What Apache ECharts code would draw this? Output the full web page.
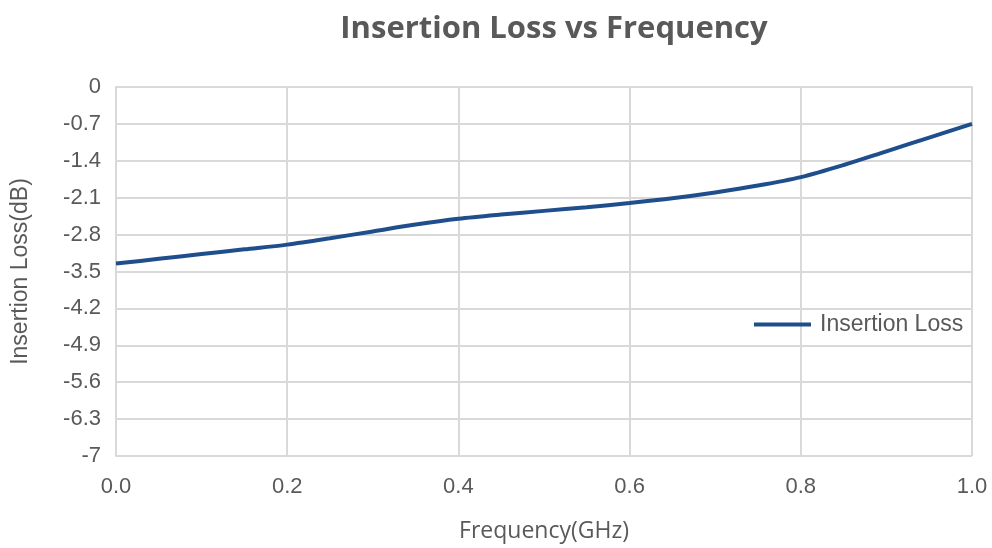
<!DOCTYPE html>
<html>
<head>
<meta charset="utf-8">
<script src="https://cdn.jsdelivr.net/npm/echarts@6/dist/echarts.min.js"></script>
<style>
  html, body { margin: 0; padding: 0; background: #fff; }
  #chart { width: 992px; height: 548px; }
</style>
</head>
<body>
<div id="chart"></div>
<script>
// 频率 (GHz) 和插损 (dB)
var freq = [0.00, 0.05, 0.10, 0.15, 0.20, 0.25, 0.30, 0.35, 0.40, 0.45, 0.50,
            0.55, 0.60, 0.65, 0.70, 0.75, 0.80, 0.85, 0.90, 0.95, 1.00];
var loss = [-3.35, -3.26, -3.17, -3.08, -2.99, -2.87, -2.74, -2.61, -2.50, -2.42, -2.35,
            -2.28, -2.20, -2.11, -2.00, -1.87, -1.71, -1.48, -1.22, -0.96, -0.70];
var xTicks = [0.0, 0.2, 0.4, 0.6, 0.8, 1.0];
var yTicks = [0, -0.7, -1.4, -2.1, -2.8, -3.5, -4.2, -4.9, -5.6, -6.3, -7];

var chart = echarts.init(document.getElementById('chart'));
var grey = '#595959';
var gridColor = '#d9d9d9';

var option = {
  animation: false,
  title: {
    text: 'Insertion Loss vs Frequency',
    left: 549,
    top: 9,
    textAlign: 'center',
    textStyle: { color: grey, fontSize: 31, fontWeight: 'bold', fontFamily: 'Open Sans' }
  },
  legend: {
    data: ['Insertion Loss'],
    left: 749,
    top: 308,
    itemWidth: 57,
    itemHeight: 4,
    itemGap: 6,
    icon: 'rect',
    textStyle: { color: grey, fontSize: 23, fontFamily: 'Liberation Sans', padding: [0, 0, 0, 4] }
  },
  grid: { left: 116, right: 20, top: 87, bottom: 92 },
  xAxis: {
    type: 'value',
    min: 0,
    max: 1,
    interval: 0.2,
    name: 'Frequency(GHz)',
    nameLocation: 'middle',
    nameGap: 64,
    nameTextStyle: { color: grey, fontSize: 23, fontFamily: 'Open Sans' },
    axisLine: { show: true, lineStyle: { color: gridColor, width: 2 } },
    axisTick: { show: false },
    axisLabel: {
      color: grey, fontSize: 22, margin: 20, fontFamily: 'Liberation Sans',
      formatter: function (v) { return xTicks.indexOf(+v.toFixed(1)) >= 0 ? v.toFixed(1) : ''; }
    },
    splitLine: { show: true, lineStyle: { color: gridColor, width: 2 } }
  },
  yAxis: {
    type: 'value',
    min: -7,
    max: 0,
    interval: 0.7,
    name: 'Insertion Loss(dB)',
    nameLocation: 'middle',
    nameGap: 84,
    nameRotate: 90,
    nameTextStyle: { color: grey, fontSize: 23, fontFamily: 'Liberation Sans' },
    axisLine: { show: true, lineStyle: { color: gridColor, width: 2 } },
    axisTick: { show: false },
    axisLabel: {
      color: grey, fontSize: 22, margin: 15, fontFamily: 'Liberation Sans',
      formatter: function (v) {
        var r = Math.round(v * 10) / 10;
        for (var i = 0; i < yTicks.length; i++) {
          if (Math.abs(yTicks[i] - r) < 1e-6) return String(yTicks[i]);
        }
        return String(r);
      }
    },
    splitLine: { show: true, lineStyle: { color: gridColor, width: 2 } }
  },
  series: [{
    name: 'Insertion Loss',
    type: 'line',
    smooth: 0.3,
    symbol: 'none',
    data: freq.map(function (f, i) { return [f, loss[i]]; }),
    lineStyle: { color: '#1f4e8c', width: 4 },
    itemStyle: { color: '#1f4e8c' }
  }]
};

chart.setOption(option);
</script>
</body>
</html>
